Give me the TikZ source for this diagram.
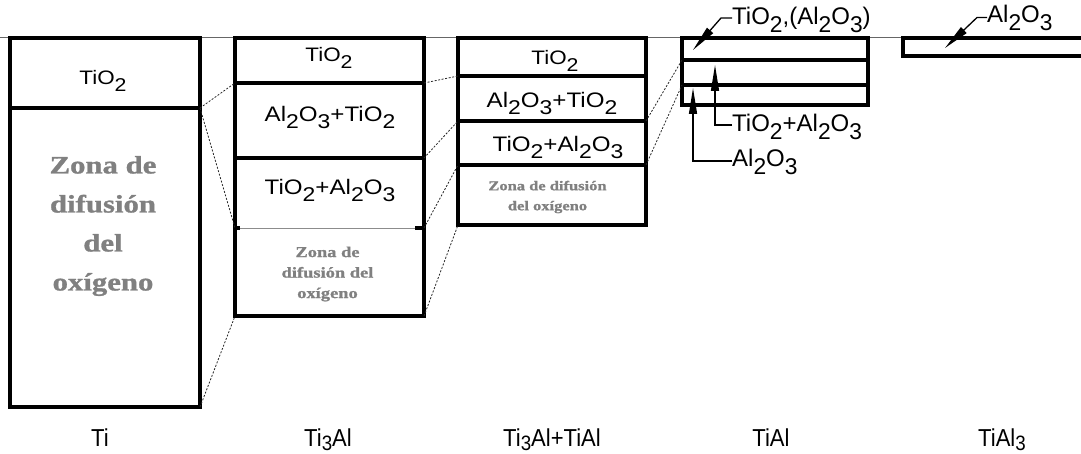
\documentclass[tikz,border=0pt]{standalone}
\usepackage{fontspec}
\usepackage{graphicx}
\setmainfont{Liberation Sans}
\newfontfamily\boxfont[FakeStretch=1.15]{Liberation Sans}
\newfontfamily\botfont[FakeStretch=0.9]{Liberation Sans}
\newfontfamily\zonafont[FakeStretch=1.23,FakeBold=1.2]{Liberation Serif}
\usetikzlibrary{arrows.meta}
\newcommand\dn[1]{\raisebox{-0.32em}{\scalebox{0.95}{#1}}}
\newcommand\dnb[1]{\raisebox{-0.18em}{\scalebox{0.85}{#1}}}
\definecolor{zonagray}{RGB}{128,128,128}
\tikzset{
  frame/.style={line width=3.1pt},
  divline/.style={line width=3.1pt},
  conn/.style={line width=0.8pt, dash pattern=on 2pt off 1.6pt, black!85},
  lead/.style={line width=1.3pt, -{Triangle[length=26pt,width=8pt]}},
  layer/.style={inner sep=0pt, outer sep=0pt, anchor=north west},
  lbl/.style={inner sep=0pt, anchor=base, font=\boxfont\fontsize{21}{24}\selectfont},
  lbls/.style={inner sep=0pt, anchor=base, font=\boxfont\fontsize{19.5}{22}\selectfont},
  ann/.style={inner sep=0pt, anchor=base west, font=\fontsize{24}{28}\selectfont},
  bot/.style={inner sep=0pt, anchor=base, font=\botfont\fontsize{24.5}{28}\selectfont},
  zona/.style={inner sep=0pt, align=center, text=zonagray},
}
\begin{document}
\begin{tikzpicture}[x=1pt,y=-1pt]
\useasboundingbox (0,0) rectangle (1081,454);
% thin reference line
\draw[line width=0.9pt, black!60] (0,37.5) -- (1081,37.5);

% ---- layer regions ----
\node[layer, minimum width=190pt, minimum height=70pt]  (tiA) at (10,38) {};
\node[layer, minimum width=190pt, minimum height=299pt] (tiB) at (10,108) {};

\node[layer, minimum width=189pt, minimum height=45pt] (aA) at (235,38) {};
\node[layer, minimum width=189pt, minimum height=75pt] (aB) at (235,83) {};
\node[layer, minimum width=189pt, minimum height=70pt] (aC) at (235,158) {};
\node[layer, minimum width=189pt, minimum height=88pt] (aD) at (235,228) {};

\node[layer, minimum width=188pt, minimum height=38pt] (bA) at (458,38) {};
\node[layer, minimum width=188pt, minimum height=45pt] (bB) at (458,76) {};
\node[layer, minimum width=188pt, minimum height=44pt] (bC) at (458,121) {};
\node[layer, minimum width=188pt, minimum height=60pt] (bD) at (458,165) {};

\node[layer, minimum width=186pt, minimum height=22pt] (cA) at (682,38) {};
\node[layer, minimum width=186pt, minimum height=25pt] (cB) at (682,60) {};
\node[layer, minimum width=186pt, minimum height=20pt] (cC) at (682,85) {};

\node[layer, minimum width=178pt, minimum height=18pt] (dA) at (903,38) {};

% ---- frames and divisions ----
\draw[frame] (tiA.north west) rectangle (tiB.south east);
\draw[divline] (tiB.north west) -- (tiB.north east);

\draw[frame] (aA.north west) rectangle (aD.south east);
\draw[divline] (aB.north west) -- (aB.north east);
\draw[divline] (aC.north west) -- (aC.north east);
\draw[line width=0.9pt, black!45] (aD.north west) -- (aD.north east);
\draw[divline] (aD.north west) -- ++(5,0);
\draw[divline] (aD.north east) -- ++(-9,0);

\draw[frame] (bA.north west) rectangle (bD.south east);
\draw[divline] (bB.north west) -- (bB.north east);
\draw[divline] (bC.north west) -- (bC.north east);
\draw[divline] (bD.north west) -- (bD.north east);

\draw[frame] (cA.north west) rectangle (cC.south east);
\draw[divline] (cB.north west) -- (cB.north east);
\draw[divline] (cC.north west) -- (cC.north east);

\draw[frame] (dA.north east) -- (dA.north west) -- (dA.south west) -- (dA.south east);

% ---- dotted correspondence lines ----
\draw[conn] (tiA.south east) -- (aB.north west);
\draw[conn] (tiA.south east) -- (aD.north west);
\draw[conn] (tiB.south east) -- (aD.south west);
\draw[conn] (aB.north east) -- (bB.north west);
\draw[conn] (aC.north east) -- (bC.north west);
\draw[conn] (aD.north east) -- (bD.north west);
\draw[conn] (aD.south east) -- (bD.south west);
\draw[conn] (bC.north east) -- (cB.north west);
\draw[conn] (bD.north east) -- (cC.north west);

% ---- layer texts ----
\node[lbls] (tTiA) at (103,85) {TiO\dn{2}};
\node[zona, font=\zonafont\bfseries\fontsize{25}{39}\selectfont] (tTiB) at (103,226) {Zona de\\difusión\\del\\oxígeno};

\node[lbls] (tA1) at (329,62) {TiO\dn{2}};
\node[lbl] (tA2) at (330,122) {Al\dn{2}O\dn{3}+TiO\dn{2}};
\node[lbl] (tA3) at (330,195) {TiO\dn{2}+Al\dn{2}O\dn{3}};
\node[zona, font=\zonafont\bfseries\fontsize{15}{20.5}\selectfont] (tA4) at (327.5,274) {Zona de\\difusión del\\oxígeno};

\node[lbls] (tB1) at (555,65) {TiO\dn{2}};
\node[lbl] (tB2) at (552,108) {Al\dn{2}O\dn{3}+TiO\dn{2}};
\node[lbl] (tB3) at (558,152) {TiO\dn{2}+Al\dn{2}O\dn{3}};
\node[zona, font=\zonafont\bfseries\fontsize{13.4}{20}\selectfont] (tB4) at (547.5,197) {Zona de difusión\\del oxígeno};

% ---- annotations ----
\node[ann] (l1) at (732,25) {TiO\dn{2},(Al\dn{2}O\dn{3})};
\coordinate (k1) at (721,18);
\coordinate (p1) at (693,50);
\draw[lead] ([yshift=7pt]l1.base west) -- (k1) -- (p1);

\node[ann] (l2) at (732,132) {TiO\dn{2}+Al\dn{2}O\dn{3}};
\coordinate (p2) at (715,65);
\draw[lead] ([yshift=7pt]l2.base west) -| (p2);

\node[ann] (l3) at (732,167) {Al\dn{2}O\dn{3}};
\coordinate (p3) at (693,88);
\draw[lead] ([yshift=6pt]l3.base west) -| (p3);

\node[ann] (l4) at (987,23) {Al\dn{2}O\dn{3}};
\coordinate (k4) at (977,17.5);
\coordinate (p4) at (945,48);
\draw[lead] ([yshift=5.5pt]l4.base west) -- (k4) -- (p4);

% ---- bottom labels ----
\node[bot] (nTi)   at (100,446)  {Ti};
\node[bot] (nTi3)  at (328,446)  {Ti\dnb{3}Al};
\node[bot] (nMix)  at (552,446)  {Ti\dnb{3}Al+TiAl};
\node[bot] (nTiAl) at (771,446)  {TiAl};
\node[bot] (nAl3)  at (1002,446) {TiAl\dnb{3}};
\end{tikzpicture}
\end{document}
